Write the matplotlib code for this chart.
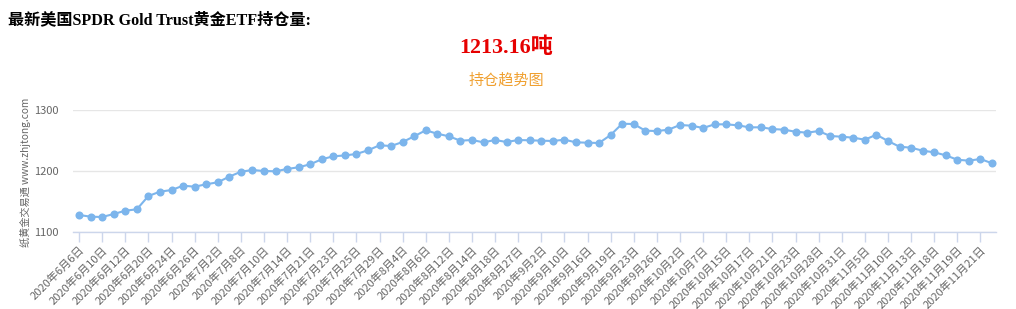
import matplotlib
matplotlib.use("Agg")
import matplotlib.pyplot as plt
import numpy as np

plt.rcParams['font.family'] = ['Noto Sans CJK SC', 'DejaVu Sans']

dates = [
    "2020年6月6日", "2020年6月9日", "2020年6月10日", "2020年6月11日", "2020年6月12日",
    "2020年6月16日", "2020年6月20日", "2020年6月23日", "2020年6月24日", "2020年6月25日",
    "2020年6月26日", "2020年6月30日", "2020年7月2日", "2020年7月7日", "2020年7月8日",
    "2020年7月9日", "2020年7月10日", "2020年7月13日", "2020年7月14日", "2020年7月16日",
    "2020年7月21日", "2020年7月22日", "2020年7月23日", "2020年7月24日", "2020年7月25日",
    "2020年7月28日", "2020年7月29日", "2020年7月31日", "2020年8月4日", "2020年8月5日",
    "2020年8月6日", "2020年8月11日", "2020年8月12日", "2020年8月13日", "2020年8月14日",
    "2020年8月17日", "2020年8月18日", "2020年8月26日", "2020年8月27日", "2020年8月29日",
    "2020年9月2日", "2020年9月9日", "2020年9月10日", "2020年9月15日", "2020年9月16日",
    "2020年9月18日", "2020年9月19日", "2020年9月22日", "2020年9月23日", "2020年9月25日",
    "2020年9月26日", "2020年9月30日", "2020年10月2日", "2020年10月6日", "2020年10月7日",
    "2020年10月14日", "2020年10月15日", "2020年10月16日", "2020年10月17日", "2020年10月20日",
    "2020年10月21日", "2020年10月22日", "2020年10月23日", "2020年10月27日", "2020年10月28日",
    "2020年10月30日", "2020年10月31日", "2020年11月4日", "2020年11月5日", "2020年11月7日",
    "2020年11月10日", "2020年11月12日", "2020年11月13日", "2020年11月17日", "2020年11月18日",
    "2020年11月18日", "2020年11月19日", "2020年11月20日", "2020年11月21日", "2020年11月24日",
]

holdings = [
    1128.4, 1125.6, 1125.1, 1130.0, 1135.4, 1137.7, 1159.5, 1166.6, 1169.3, 1176.4,
    1174.8, 1178.7, 1182.0, 1191.2, 1199.3, 1202.1, 1200.5, 1200.0, 1203.8, 1206.6,
    1211.5, 1219.7, 1224.6, 1226.0, 1228.4, 1234.4, 1242.6, 1241.5, 1248.0, 1257.4,
    1267.2, 1261.6, 1257.4, 1250.2, 1251.3, 1247.5, 1251.3, 1248.0, 1251.3, 1250.8,
    1250.2, 1249.7, 1251.8, 1247.5, 1246.9, 1246.4, 1259.5, 1278.0, 1277.5, 1266.6,
    1266.0, 1268.2, 1275.9, 1274.8, 1271.0, 1277.0, 1277.0, 1275.4, 1272.1, 1272.1,
    1269.3, 1268.2, 1264.9, 1263.3, 1266.0, 1257.9, 1256.7, 1255.1, 1251.8, 1260.0,
    1249.7, 1240.3, 1238.7, 1233.8, 1231.1, 1226.2, 1219.0, 1217.4, 1220.2, 1213.16,
]

y_ticks = [1100, 1200, 1300]

W, H = 1016, 309
fig = plt.figure(figsize=(W / 100, H / 100), dpi=100)
fig.patch.set_facecolor('white')

# axes box in pixel coords -> fractions
left, right, top, bottom = 72.7, 996, 110.3, 232.3
ax = fig.add_axes([left / W, 1 - bottom / H, (right - left) / W, (bottom - top) / H])

x = np.arange(len(holdings))
ax.plot(x, holdings, color='#7cb5ec', lw=1.5, marker='o', ms=5.8,
        markeredgewidth=0, zorder=3, clip_on=False)

ax.set_xlim(-0.55, len(holdings) - 1 + 0.35)
ax.set_ylim(1100, 1300)
ax.set_yticks(y_ticks)
ax.set_yticklabels([str(v) for v in y_ticks])
ax.grid(axis='y', color='#e6e6e6', lw=1)
ax.set_axisbelow(True)

ax.set_xticks(x[::2])
ax.set_xticklabels(dates[::2], rotation=45, ha='right', va='top',
                   rotation_mode='anchor', fontsize=8, color='#666666')
ax.tick_params(axis='x', length=7, width=1, color='#ccd6eb', pad=2)
ax.tick_params(axis='y', length=0, pad=10, labelsize=8, labelcolor='#666666')

for s in ['top', 'right', 'left']:
    ax.spines[s].set_visible(False)
ax.spines['bottom'].set_color('#ccd6eb')
ax.spines['bottom'].set_linewidth(1)

ax.set_ylabel('纸黄金交易通 www.zhjtong.com', fontsize=7.3, color='#666666')
ax.yaxis.set_label_coords(-0.045, 0.494)

fig.text(8 / W, 1 - 20 / H, '最新美国SPDR Gold Trust黄金ETF持仓量:', fontsize=11.6,
         fontweight='bold', family=['Liberation Serif', 'Noto Sans CJK SC'],
         ha='left', va='center', color='black')
fig.text(506 / W, 1 - 48 / H, '1213.16吨', fontsize=15.9, fontweight='bold',
         family=['Liberation Serif', 'Noto Sans CJK SC'],
         ha='center', va='center', color='#e60000')
fig.text(506 / W, 1 - 80 / H, '持仓趋势图', fontsize=10.9, ha='center', va='center',
         color='#f0a030')

fig.savefig('out.png', dpi=100, facecolor='white')
